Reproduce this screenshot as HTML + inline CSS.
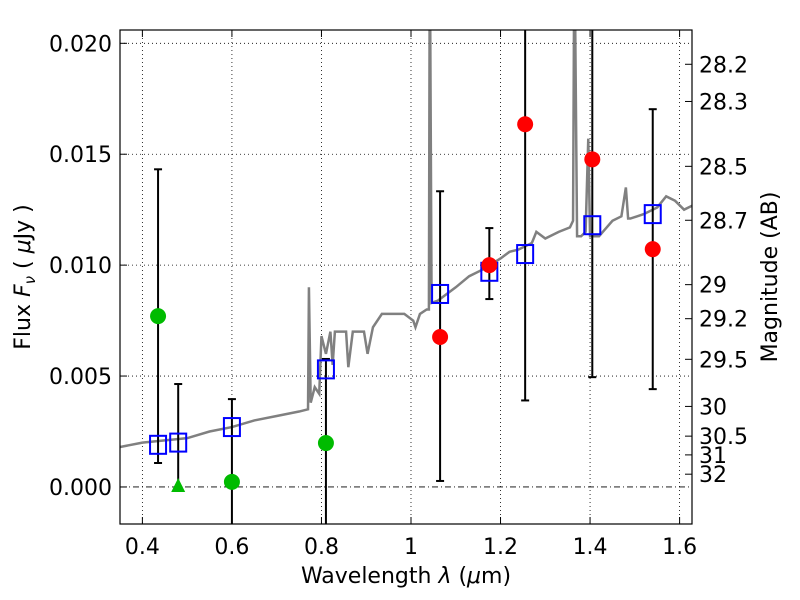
<!DOCTYPE html>
<html><head><meta charset="utf-8"><style>
html,body{margin:0;padding:0;background:#fff;overflow:hidden;width:800px;height:600px}
#wrap{position:relative;width:800px;height:600px}
svg{display:block;font-family:"DejaVu Sans","Liberation Sans",sans-serif}
</style></head><body>
<div id="wrap">
<svg id="chart" width="800" height="600" style="position:absolute;left:0;top:0"></svg>
<svg width="800" height="600" style="position:absolute;left:0;top:0">
<text x="406" y="583" text-anchor="middle" font-size="22">Wavelength  <tspan font-style="italic">λ</tspan> (<tspan font-style="italic">μ</tspan>m)</text>
<text transform="translate(30,277) rotate(-90)" text-anchor="middle" font-size="22">Flux  <tspan font-style="italic">F</tspan><tspan font-style="italic" font-size="15" dy="5">ν</tspan><tspan dy="-5">  ( </tspan><tspan font-style="italic">μ</tspan>Jy )</text>
<text transform="translate(777,277) rotate(-90)" text-anchor="middle" font-size="22">Magnitude (AB)</text>
</svg>
</div>
<script>
// ---- data ----
const xTicks=[0.4,0.6,0.8,1.0,1.2,1.4,1.6];
const xTickLabels=["0.4","0.6","0.8","1","1.2","1.4","1.6"];
const yTicks=[0,0.005,0.010,0.015,0.020];
const yTickLabels=["0.000","0.005","0.010","0.015","0.020"];
const magTicks=[28.2,28.3,28.5,28.7,29,29.2,29.5,30,30.5,31,32];
const specX=[0.35,0.40,0.45,0.50,0.55,0.60,0.65,0.70,0.75,0.77,0.772,0.776,0.785,0.795,0.80,0.81,0.82,0.825,0.83,0.855,0.86,0.87,0.895,0.903,0.915,0.935,0.985,1.005,1.01,1.02,1.035,1.040,1.042,1.046,1.06,1.10,1.13,1.16,1.20,1.22,1.24,1.27,1.28,1.30,1.33,1.355,1.362,1.365,1.371,1.38,1.39,1.396,1.40,1.42,1.45,1.47,1.48,1.485,1.49,1.52,1.55,1.57,1.59,1.61,1.63];
const specY=[0.0018,0.0020,0.0021,0.0022,0.0025,0.0027,0.0030,0.0032,0.0034,0.0035,0.0090,0.0038,0.0045,0.0042,0.0068,0.0060,0.0070,0.0055,0.0070,0.0070,0.0054,0.0070,0.0070,0.0060,0.0072,0.0078,0.0078,0.0075,0.0072,0.0078,0.0080,0.0080,0.025,0.0083,0.0084,0.0090,0.0095,0.0098,0.0103,0.0106,0.0107,0.0110,0.0115,0.0112,0.0115,0.0117,0.0120,0.025,0.0113,0.0113,0.0115,0.0157,0.0113,0.0113,0.0120,0.0122,0.0135,0.0121,0.0121,0.0123,0.0126,0.0131,0.0129,0.0125,0.0127];
const modelX=[0.435,0.48,0.60,0.81,1.065,1.175,1.255,1.405,1.54];
const modelY=[0.0019,0.0020,0.0027,0.0053,0.0087,0.0097,0.0105,0.0118,0.0123];
const redX=[1.065,1.175,1.255,1.405,1.54];
const redY=[0.00676,0.0100,0.01635,0.01477,0.01072];
const redLo=[0.00027,0.00847,0.0039,0.00495,0.00441];
const redHi=[0.01333,0.01167,0.03,0.03,0.01703];
const greenX=[0.435,0.60,0.81];
const greenY=[0.0077,0.00023,0.00198];
const greenLo=[0.00108,-0.01,-0.01];
const greenHi=[0.01432,0.00396,0.00577];
const limX=[0.48];
const limY=[0.0];
const limHi=[0.00464];
// ---- scales ----
const L=120,R=692,T=30,B=524;
const xmin=0.35,xmax=1.6277,ymin=-0.00167,ymax=0.0206;
const sx=v=>L+(v-xmin)/(xmax-xmin)*(R-L);
const sy=v=>T+(ymax-v)/(ymax-ymin)*(B-T);
const svg=document.getElementById('chart');
const NS='http://www.w3.org/2000/svg';
function mk(tag,attrs,parent){const e=document.createElementNS(NS,tag);for(const k in attrs)e.setAttribute(k,attrs[k]);(parent||svg).appendChild(e);return e;}
const clip=mk('clipPath',{id:'pc'});mk('rect',{x:L,y:T,width:R-L,height:B-T},clip);
const plot=mk('g',{'clip-path':'url(#pc)'});


xTicks.forEach(v=>{const l=mk('line',{x1:sx(v),x2:sx(v),y1:T,y2:B,stroke:'#000','stroke-width':0.8,'stroke-dasharray':'1,3'},plot);

});
yTicks.forEach(v=>{const l=mk('line',{x1:L,x2:R,y1:sy(v),y2:sy(v),stroke:'#000','stroke-width':0.8,'stroke-dasharray':v===0?'6,3,1,3':'1,3'},plot);

});
const sp=mk('polyline',{points:specX.map((x,i)=>sx(x)+','+sy(specY[i])).join(' '),fill:'none',stroke:'#808080','stroke-width':2.5},plot);


function ebar(x,lo,hi,name){const g=mk('g',{},plot);


mk('line',{x1:sx(x),x2:sx(x),y1:sy(lo),y2:sy(hi),stroke:'#000','stroke-width':2},g);
[lo,hi].forEach(v=>mk('line',{x1:sx(x)-4,x2:sx(x)+4,y1:sy(v),y2:sy(v),stroke:'#000','stroke-width':2},g));}
redX.forEach((x,i)=>ebar(x,redLo[i],redHi[i],'red-errorbar'));
greenX.forEach((x,i)=>ebar(x,greenLo[i],greenHi[i],'green-errorbar'));
limX.forEach((x,i)=>ebar(x,limY[i],limHi[i],'limit-errorbar'));
modelX.forEach((x,i)=>{const r=mk('rect',{x:sx(x)-8,y:sy(modelY[i])-9,width:16,height:18,fill:'none',stroke:'#0000ff','stroke-width':2},plot);

});
redX.forEach((x,i)=>{const c=mk('circle',{cx:sx(x),cy:sy(redY[i]),r:8,fill:'#ff0000'},plot);

});
greenX.forEach((x,i)=>{const c=mk('circle',{cx:sx(x),cy:sy(greenY[i]),r:8,fill:'#00bb00'},plot);

});
limX.forEach((x,i)=>{const X=sx(x),Y=sy(limY[i]);const p=mk('polygon',{points:`${X},${Y-9} ${X-7},${Y+5} ${X+7},${Y+5}`,fill:'#00bb00'},plot);

});
const fr=mk('rect',{x:L,y:T,width:R-L,height:B-T,fill:'none',stroke:'#000','stroke-width':1.2});


xTicks.forEach((v,i)=>{mk('line',{x1:sx(v),x2:sx(v),y1:B,y2:B-7,stroke:'#000'});mk('line',{x1:sx(v),x2:sx(v),y1:T,y2:T+7,stroke:'#000'});
const t=mk('text',{x:sx(v),y:B+30,'text-anchor':'middle','font-size':22});t.textContent=xTickLabels[i];

});
yTicks.forEach((v,i)=>{mk('line',{x1:L,x2:L+7,y1:sy(v),y2:sy(v),stroke:'#000'});
const t=mk('text',{x:L-8,y:sy(v)+8,'text-anchor':'end','font-size':22});t.textContent=yTickLabels[i];

});
magTicks.forEach(m=>{const f=Math.pow(10,(23.9-m)/2.5);const y=sy(f);mk('line',{x1:R,x2:R-7,y1:y,y2:y,stroke:'#000'});
const t=mk('text',{x:R+7,y:y+8,'font-size':22});t.textContent=String(m);

});
</script>
</body></html>
